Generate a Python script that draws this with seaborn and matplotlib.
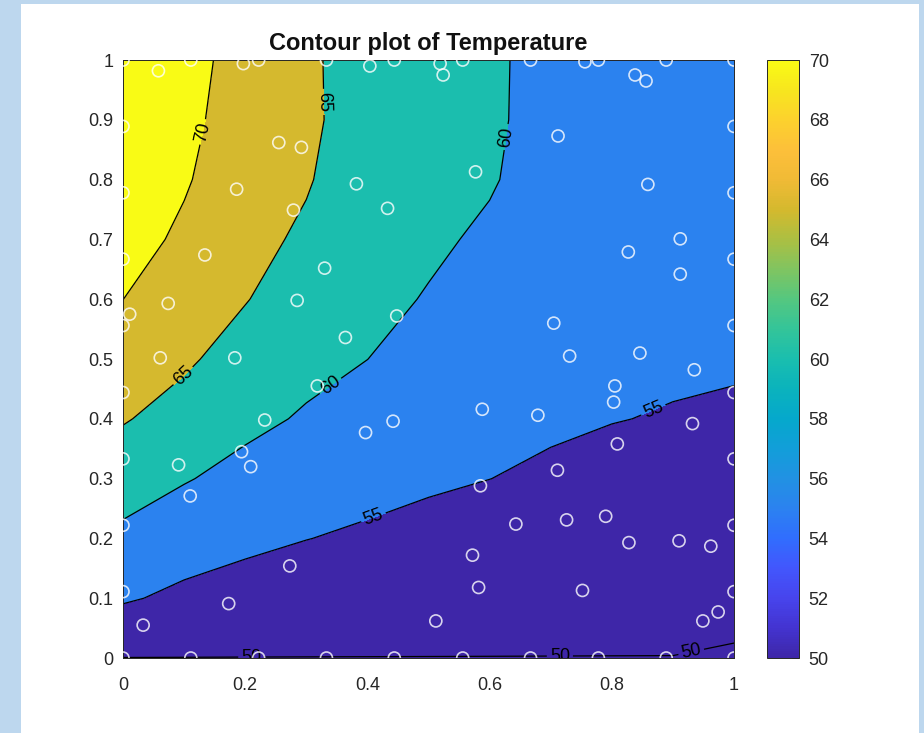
import numpy as np
import pandas as pd
import matplotlib
matplotlib.use("Agg")
import matplotlib.pyplot as plt
import seaborn as sns
from matplotlib.colors import LinearSegmentedColormap, Normalize
from matplotlib.cm import ScalarMappable
from matplotlib.patches import Rectangle

# grid the temperature was interpolated onto
grid_x = [0.0, 0.1, 0.2, 0.3, 0.4, 0.5, 0.6, 0.7, 0.8, 0.9, 1.0]
grid_y = [0.0, 0.1, 0.2, 0.3, 0.4, 0.5, 0.6, 0.7, 0.8, 0.9, 1.0]

# one list per x column, values going up in y
temp_x00 = [49.95, 55.52, 58.97, 62.24, 65.33, 67.68, 70.02, 72.0, 73.5, 74.5, 75.5]
temp_x01 = [49.95, 54.00, 57.27, 60.29, 63.24, 65.68, 67.39, 69.10, 70.5, 71.5, 72.5]
temp_x02 = [49.95, 53.09, 56.01, 58.67, 61.04, 63.13, 65.20, 66.10, 66.8, 67.2, 67.3]
temp_x03 = [49.95, 52.54, 55.07, 57.32, 59.57, 61.19, 62.65, 64.40, 65.3, 65.7, 65.6]
temp_x04 = [49.95, 52.19, 54.39, 56.33, 58.17, 60.02, 61.00, 62.00, 62.8, 63.3, 63.4]
temp_x05 = [49.95, 51.91, 53.82, 55.54, 56.95, 58.36, 59.77, 60.60, 61.2, 61.6, 61.8]
temp_x06 = [49.95, 51.68, 53.36, 55.02, 56.12, 57.22, 58.33, 59.43, 60.3, 60.5, 60.5]
temp_x07 = [49.95, 51.48, 52.97, 54.45, 55.50, 56.40, 57.20, 57.90, 58.5, 58.9, 59.0]
temp_x08 = [49.95, 51.31, 52.62, 53.93, 55.10, 55.70, 56.20, 56.70, 57.1, 57.4, 57.5]
temp_x09 = [49.95, 51.20, 52.40, 53.60, 54.80, 55.50, 56.00, 56.40, 56.7, 57.0, 57.1]
temp_x10 = [49.70, 50.90, 52.10, 53.30, 54.50, 55.40, 55.90, 56.30, 56.6, 56.8, 57.0]

levels = [50, 55, 60, 65, 70]

# measurement sites (edge sites + scattered interior sites)
edge_pos = [0.0, 0.111, 0.222, 0.333, 0.444, 0.556, 0.667, 0.778, 0.889, 1.0]
inner_x = [0.058, 0.197, 0.255, 0.292, 0.186, 0.279, 0.134, 0.074, 0.011, 0.382,
           0.433, 0.330, 0.285, 0.448, 0.364, 0.061, 0.183, 0.404,
           0.519, 0.524, 0.756, 0.838, 0.856, 0.712, 0.577, 0.859, 0.912, 0.827,
           0.912, 0.705, 0.731, 0.846,
           0.318, 0.232, 0.397, 0.442, 0.091, 0.194, 0.209, 0.110, 0.273, 0.173, 0.033,
           0.935, 0.805, 0.803, 0.588, 0.679, 0.932, 0.809, 0.711, 0.585, 0.643,
           0.726, 0.790, 0.828, 0.910, 0.962, 0.572, 0.582, 0.752, 0.512, 0.949, 0.974]
inner_y = [0.982, 0.994, 0.862, 0.854, 0.784, 0.749, 0.674, 0.593, 0.575, 0.793,
           0.752, 0.652, 0.598, 0.572, 0.536, 0.502, 0.502, 0.990,
           0.994, 0.975, 0.997, 0.975, 0.965, 0.873, 0.813, 0.792, 0.701, 0.679,
           0.642, 0.560, 0.505, 0.510,
           0.455, 0.398, 0.377, 0.396, 0.323, 0.345, 0.320, 0.271, 0.154, 0.091, 0.055,
           0.482, 0.455, 0.428, 0.416, 0.406, 0.392, 0.358, 0.314, 0.288, 0.224,
           0.231, 0.237, 0.193, 0.196, 0.187, 0.172, 0.118, 0.113, 0.062, 0.062, 0.077]

title = "Contour plot of Temperature"

# parula-like colormap
parula_pts = [
    (0.2422, 0.1504, 0.6603), (0.2650, 0.2030, 0.8200), (0.2780, 0.2690, 0.9300),
    (0.2600, 0.3400, 0.9900), (0.1900, 0.4300, 0.9950), (0.1700, 0.5100, 0.9400),
    (0.1300, 0.5700, 0.8900), (0.0700, 0.6200, 0.8500), (0.0200, 0.6600, 0.8000),
    (0.0400, 0.7000, 0.7400), (0.1000, 0.7450, 0.6850), (0.2000, 0.7700, 0.6000),
    (0.3300, 0.7800, 0.5000), (0.5000, 0.7700, 0.3800), (0.6700, 0.7500, 0.2600),
    (0.8300, 0.7250, 0.1800), (0.9400, 0.7300, 0.2100), (0.9900, 0.7500, 0.2300),
    (0.9900, 0.8200, 0.1800), (0.9700, 0.9000, 0.1200), (0.9769, 0.9839, 0.0805)]
parula = LinearSegmentedColormap.from_list("parula", parula_pts)

sns.set_style("white")
plt.rcParams['font.family'] = ['Liberation Sans', 'DejaVu Sans']

X, Y = np.meshgrid(grid_x, grid_y)
T = np.array([temp_x00, temp_x01, temp_x02, temp_x03, temp_x04, temp_x05,
              temp_x06, temp_x07, temp_x08, temp_x09, temp_x10]).T

inner_edge = edge_pos[1:-1]
pts = pd.DataFrame({
    "x": inner_edge + inner_edge + [0.0] * 10 + [1.0] * 10 + inner_x,
    "y": [0.0] * 8 + [1.0] * 8 + edge_pos + edge_pos + inner_y,
})

fig = plt.figure(figsize=(9.24, 7.33), dpi=100)
fig.patch.set_facecolor('#bdd7ee')
fig.patches.append(Rectangle((21 / 924, 0), 898 / 924, 729 / 733,
                             transform=fig.transFigure, facecolor='white',
                             edgecolor='none', zorder=-10))

ax = fig.add_axes([0.1331, 0.1023, 0.6613, 0.8158])
cax = fig.add_axes([0.8301, 0.1023, 0.0346, 0.8158])

norm = Normalize(50, 70)
fill_levels = [40] + levels + [90]
fill_colors = [parula(norm(v)) for v in [50, 50, 55, 60, 65, 70]]
ax.contourf(X, Y, T, levels=fill_levels, colors=fill_colors)
cs = ax.contour(X, Y, T, levels=levels, colors='black', linewidths=0.9)
ax.clabel(cs, fmt='%d', fontsize=13, inline=True, inline_spacing=3,
          manual=[(0.13, 0.88), (0.33, 0.93), (0.10, 0.47), (0.635, 0.87),
                  (0.35, 0.44), (0.41, 0.235), (0.87, 0.41),
                  (0.21, 0.0), (0.715, 0.0), (0.93, 0.01)])

sns.scatterplot(data=pts, x="x", y="y", ax=ax, marker='o', s=75,
                facecolor='none', edgecolor=(1, 1, 1, 0.8), linewidth=1.2,
                legend=False, zorder=4)

ax.set_xlim(0, 1)
ax.set_ylim(0, 1)
ax.set_xlabel("")
ax.set_ylabel("")
ax.set_xticks([0, 0.2, 0.4, 0.6, 0.8, 1.0])
ax.set_xticklabels(["0", "0.2", "0.4", "0.6", "0.8", "1"])
ax.set_yticks([0, 0.1, 0.2, 0.3, 0.4, 0.5, 0.6, 0.7, 0.8, 0.9, 1.0])
ax.set_yticklabels(["0", "0.1", "0.2", "0.3", "0.4", "0.5", "0.6", "0.7", "0.8", "0.9", "1"])
ax.tick_params(direction='in', length=5, width=0.6, top=True, right=True,
               labelsize=13, labelcolor='#262626', color='#262626')
ax.tick_params(axis='x', pad=14)
ax.tick_params(axis='y', pad=7)
for sp in ax.spines.values():
    sp.set_visible(True)
    sp.set_color('#262626')
    sp.set_linewidth(0.7)
ax.set_title(title, fontsize=17, fontweight='bold', pad=7, color='#111111')

cb = fig.colorbar(ScalarMappable(norm=norm, cmap=parula), cax=cax)
cb.set_ticks(list(range(50, 71, 2)))
cb.ax.tick_params(direction='in', length=5, width=0.6, labelsize=13,
                  labelcolor='#262626', color='#262626', pad=7)
cb.outline.set_linewidth(0.7)
cb.outline.set_edgecolor('#262626')

fig.savefig("out.png", dpi=100, facecolor=fig.get_facecolor())
